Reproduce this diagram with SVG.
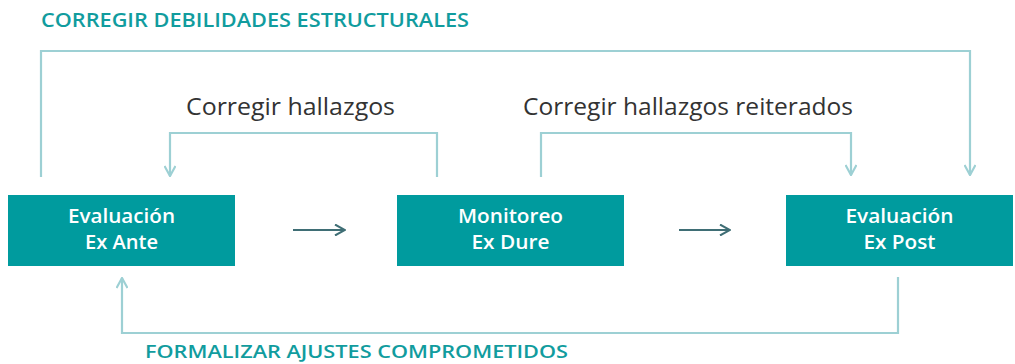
<svg xmlns="http://www.w3.org/2000/svg" width="1015" height="364" viewBox="0 0 1015 364">
<style>
.box{fill:#009b9e}
.bt{font-family:"Open Sans",Lato,sans-serif;font-size:19px;font-weight:600;fill:#ffffff;text-anchor:middle}
.cap{font-family:"Open Sans",Lato,sans-serif;font-size:19px;font-weight:600;fill:#119c9e}
.lbl{font-family:"Open Sans",Lato,sans-serif;font-size:23px;fill:#333333}
.fb{fill:none;stroke:#9dd0d4;stroke-width:2.2}
.fw{fill:none;stroke:#3f6e75;stroke-width:2}
</style>
<defs>
<marker id="ah" viewBox="0 0 12 12" refX="11" refY="6" markerWidth="12" markerHeight="12" markerUnits="userSpaceOnUse" orient="auto">
<path d="M1,0.5 L11,6 L1,11.5" fill="none" stroke="#9dd0d4" stroke-width="2.2"/>
</marker>
<marker id="ad" viewBox="0 0 12 12" refX="11" refY="6" markerWidth="12" markerHeight="12" markerUnits="userSpaceOnUse" orient="auto">
<path d="M1,0.5 L11,6 L1,11.5" fill="none" stroke="#3f6e75" stroke-width="2"/>
</marker>
</defs>
<text class="cap" x="41" y="27" textLength="428" lengthAdjust="spacingAndGlyphs">CORREGIR DEBILIDADES ESTRUCTURALES</text>
<text class="lbl" x="186" y="115" textLength="209" lengthAdjust="spacingAndGlyphs">Corregir hallazgos</text>
<text class="lbl" x="523" y="115" textLength="330" lengthAdjust="spacingAndGlyphs">Corregir hallazgos reiterados</text>
<text class="cap" x="145" y="358" style="font-size:18px" textLength="423" lengthAdjust="spacingAndGlyphs">FORMALIZAR AJUSTES COMPROMETIDOS</text>
<g id="connectors">
<path class="fb" d="M41,177 V51 H970 V175" marker-end="url(#ah)"/>
<path class="fb" d="M437,177 V133 H170 V176" marker-end="url(#ah)"/>
<path class="fb" d="M541,177 V133 H851 V175" marker-end="url(#ah)"/>
<path class="fb" d="M898,277 V333 H122 V278" marker-end="url(#ah)"/>
<path class="fw" d="M293,230 H345" marker-end="url(#ad)"/>
<path class="fw" d="M679,230 H730" marker-end="url(#ad)"/>
</g>
<g id="exante">
<rect class="box" x="8" y="195" width="227" height="71"/>
<text class="bt" x="121.5" y="223" textLength="107" lengthAdjust="spacingAndGlyphs">Evaluación</text>
<text class="bt" x="121.5" y="249" textLength="73" lengthAdjust="spacingAndGlyphs">Ex Ante</text>
</g>
<g id="exdure">
<rect class="box" x="397" y="195" width="227" height="71"/>
<text class="bt" x="510.5" y="223" textLength="105" lengthAdjust="spacingAndGlyphs">Monitoreo</text>
<text class="bt" x="510.5" y="249" textLength="78" lengthAdjust="spacingAndGlyphs">Ex Dure</text>
</g>
<g id="expost">
<rect class="box" x="786" y="195" width="227" height="71"/>
<text class="bt" x="899.5" y="223" textLength="108" lengthAdjust="spacingAndGlyphs">Evaluación</text>
<text class="bt" x="899.5" y="249" textLength="72" lengthAdjust="spacingAndGlyphs">Ex Post</text>
</g>
</svg>
